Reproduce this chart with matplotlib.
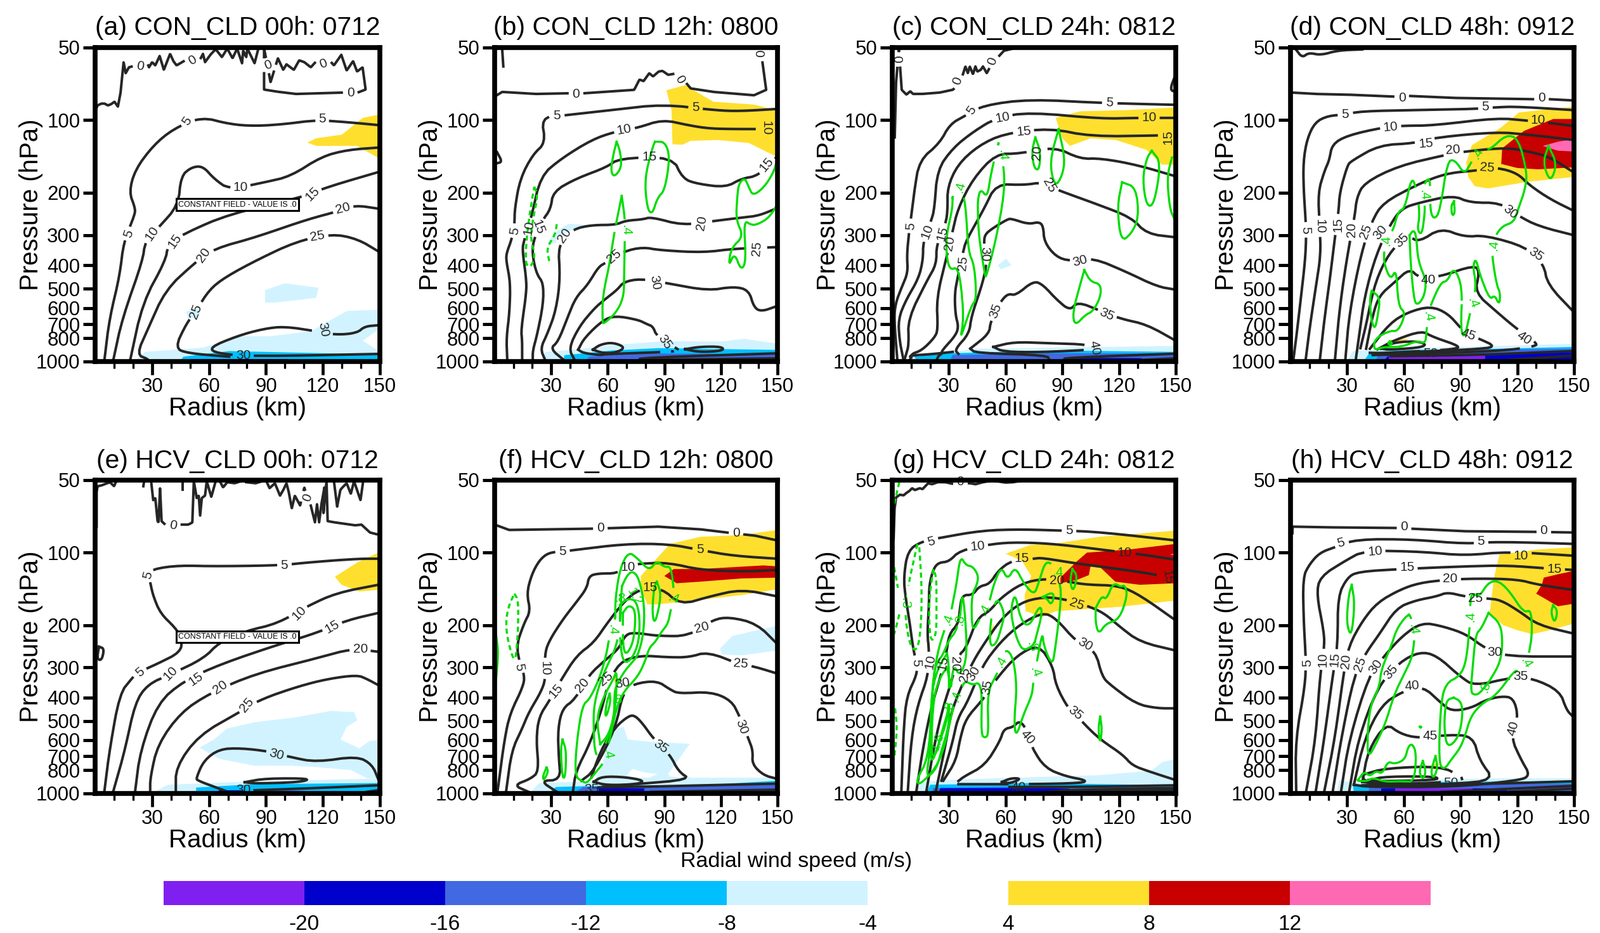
import numpy as np
import matplotlib
matplotlib.use('Agg')
import matplotlib.pyplot as plt

plt.rcParams['font.family'] = ['Liberation Sans', 'DejaVu Sans']

# values: radius (km), pressure (hPa)
titles = ['(a) CON_CLD 00h: 0712', '(b) CON_CLD 12h: 0800', '(c) CON_CLD 24h: 0812', '(d) CON_CLD 48h: 0912',
          '(e) HCV_CLD 00h: 0712', '(f) HCV_CLD 12h: 0800', '(g) HCV_CLD 24h: 0812', '(h) HCV_CLD 48h: 0912']
y_ticks = [50, 100, 200, 300, 400, 500, 600, 700, 800, 1000]
x_major = [30, 60, 90, 120, 150]
x_minor = [10, 20, 40, 50, 70, 80, 100, 110, 130, 140]
cbar_labels = ['-20', '-16', '-12', '-8', '-4', '4', '8', '12']
shade_colors = {-4: '#D1F3FF', -8: '#00BFFF', -12: '#4169E1', -16: '#0000CD', -20: '#8020F0',
                4: '#FFDF2E', 8: '#C80000', 12: '#FF69B4', 0: 'white'}
cbar_colors = ['#8020F0', '#0000CD', '#4169E1', '#00BFFF', '#D1F3FF', 'white', '#FFDF2E', '#C80000', '#FF69B4']

# ---- panel a
a_shade = [
    (-4, [(89.5,506),(100,474),(117.7,495),(116.4,545),(95,570),(89.5,570)]),
    (-4, [(48,620),(56,600),(54.6,655),(49,665)]),
    (-4, [(21,990),(26.3,912),(57,875),(76,786),(92,786),(113.7,749),(132.5,618),(149.5,610),(149.5,735),(141,820),(149.5,905),(149.5,990)]),
    (-8, [(45,990),(46.5,955),(70.6,905),(149.5,935),(149.5,990)]),
    (-16, [(50.5,990),(50.5,975),(101.6,975),(101.6,990)]),
    (4, [(111.8,124),(116.4,119),(130,115),(141,98),(149.5,95),(149.5,144),(138,128),(116.4,128)]),
]
a_black = [
    ('0', [(0.5,90),(1.3,87),(3.3,85.5),(5,85.5),(6.7,87),(8.4,86),(10.2,84),(12,88),(13.4,77),(15,57.6),(16.1,64),(17.8,60.5),(19.5,60),(21.2,62),(27.3,57.6),(28.4,60.5),(30,57.6),(31.7,59.4),(34,54.3),(36.2,62),(38.4,56),(39.5,53.2),(41.2,57),(42.9,59.4),(46.8,57),(48.4,60),(54.6,57.6),(56.8,53.2),(57.9,57.6),(60.7,53.7),(63.5,50.9),(66.8,54.9),(69.6,50.6),(72.4,55.5),(74.8,50.6),(77.4,58.2),(78,51.6),(79.6,54.9),(80.2,50.6),(84,58.2),(86,50.6)]),
    ('0', [(89,50.6),(89,74.8),(95.8,76.3),(105.8,78),(130,77),(138.6,76.8),(142.5,74.8),(140.9,60.5),(138,63),(135.9,57),(132.5,62.4),(129.7,53.7),(125.8,59.4),(122.5,55.5),(119.7,57.6),(117.5,56),(113.6,60.5),(110.2,57.6),(107.5,56.6),(104.7,62),(100.8,58.8),(99.1,62),(96.3,55.5),(92.4,69.8),(90.8,59.4),(89,50.6)]),
    ('5', [(4.8,1000),(7.5,665),(12.9,445),(15,319),(21,246),(21,230),(17.9,199),(21,161),(30.4,128),(41,109),(55.9,97),(70.6,104),(84,106),(100,104),(116.4,100),(132.5,102),(149.5,105)]),
    ('10', [(9.4,1000),(14.2,666),(25,384),(26.3,319),(33,281),(43.8,226),(45.2,171),(50.6,157),(56.7,155),(62.6,175),(70.6,194),(89.5,181),(103,171),(119,142),(132.5,133),(149.5,130)]),
    ('15', [(18.3,1000),(25,570),(37,384),(38.4,329),(46.5,296),(70.6,245),(108,210),(121.7,190),(149.5,164)]),
    ('20', [(28,1000),(28,977),(21.8,937),(27.7,736),(37,506),(52,393),(62.6,341),(84,307),(111,259),(127,240),(136.6,225),(149.5,233)]),
    ('25', [(70.6,955),(49,925),(42,880),(47.8,702),(53.2,616),(60,506),(68,450),(84,384),(105.6,319),(124.5,296),(138,310),(149.5,351)]),
    ('30', [(149.5,707),(142,715),(138,762),(127,776),(116.4,749),(100,716),(89.5,730),(76,778),(60,875),(64,926),(84,953),(149.5,930)]),
]
a_labels = [('0',23.6,60,-10),('0',51.2,56.6,30),('0',91,59.4,20),('0',120.3,58.6,20),('0',134.5,77,0),
            ('5',48.4,101,55),('5',119.6,99,0),('5',17.7,296,70),('10',76.6,190,0),('10',29.8,296,55),
            ('15',114.5,203,45),('15',42,318,55),('20',130.4,233,15),('20',57.3,362,55),
            ('25',117.2,303,10),('25',53.2,620,70),('30',120,735,-80),('30',78,945,0)]

# ---- panel b
b_shade = [
    (-4, [(28,326),(31.4,293),(39.2,269),(49.3,272),(43.7,279),(33,304),(32.5,323)]),
    (-4, [(24.3,990),(27,912),(45.8,888),(62,855),(89,825),(121.3,825),(132,805),(149.6,842),(149.6,990)]),
    (-8, [(36.4,990),(37,941),(49,922),(62,900),(87,880),(149.6,895),(149.6,990)]),
    (-12, [(48.5,990),(49.9,955),(75.5,925),(149.6,932),(149.6,990)]),
    (4, [(91.1,75.3),(101,71.7),(116,84),(137.5,86.3),(149.6,91),(149.6,142),(134.8,124.5),(118.6,121),(103.8,122),(99.7,126.5),(94.3,126),(93.8,91)]),
]
b_black = [
    ('0', [(0,80),(4,76.5),(21.6,78),(39,77.5),(47.2,77.5),(74,75),(76.8,68),(79,69),(82,64),(84,66),(87,63),(89,62.6),(92,65),(96,64.2),(100,68),(104,74),(116,76.5),(137.5,79),(144,75),(142,57.4),(142,56)]),
    ('', [(4,51),(4.6,60)]),
    ('', [(1.3,136),(4,149),(1.3,151)]),
    ('5', [(6.7,990),(6.2,798),(7.8,640),(8.4,473),(6.2,386),(6.2,357),(9,313),(10.6,269),(10.6,234),(13.5,175),(20.2,139),(27,124.5),(24.8,98),(35,96),(62,91),(89,86),(116,91),(129.4,92),(149.6,90)]),
    ('10', [(14.6,990),(14.6,817),(14,738),(16.8,523),(16.8,454),(14.6,344),(15.7,313),(19.6,251),(24.3,171),(35,145),(51.2,121),(63.3,112),(75.5,108),(89,99.6),(102.4,105),(112,108),(121.3,109),(149.6,109)]),
    ('15', [(20.2,990),(20.2,901),(22.4,783),(25.8,578),(25.8,473),(22.4,436),(20.2,371),(20.2,320),(25.2,261),(29.7,234),(31,198),(43,175),(59.3,157),(66,144),(94.3,142),(99.7,175),(107.8,184),(122.6,190),(130.7,175),(140,170),(149.6,142)]),
    ('20', [(26.9,990),(24.2,884),(28,767),(32.5,615),(34.8,454),(33.6,326),(41.5,283),(51.6,272),(64,272),(69.5,261),(78.5,258),(83,252),(99.7,273),(116,262),(132,253),(140,249),(149.6,232)]),
    ('25', [(37,990),(29.4,884),(33.6,830),(38.7,656),(43,543),(49.3,482),(55,406),(58.9,390),(68.4,350),(78.5,336),(87.4,346),(110.5,354),(126.7,341),(149.6,336)]),
    ('30', [(42.6,990),(39.2,884),(44.8,717),(52.7,604),(58.3,554),(65,505),(68.4,468),(77.4,454),(91.6,474),(113,509),(126.7,489),(134.8,506),(137.5,597),(141.5,621),(149.6,590)]),
    ('35', [(44.3,893),(47.6,798),(57.2,676),(63.9,646),(76.2,672),(80.7,700),(84,716),(85.8,783),(97,888)]),
    ('35', [(44.3,893),(47,922),(56,941),(58.3,932),(87.4,915),(94.4,908)]),
    ('40', [(52.1,893),(56,850),(62.8,833),(69.5,875),(63.9,922),(57.2,922),(52.1,893)]),
    ('40', [(101,889),(109,868),(120.7,868),(121.3,902),(109,915),(101,889)]),
    ('', [(76.8,990),(76.8,965),(149.6,925)]),
    ('', [(78,985),(149.6,970)]),
]
b_labels = [('0',43,78,0),('0',98,68,-60),('0',141.5,53,90),('5',33,96,0),('5',106.5,89,0),('5',10.6,288,80),
            ('10',68.7,110,10),('10',144,108,-90),('10',18,280,80),('15',82,142,0),('15',144,153,50),('15',23,277,-70),
            ('20',37,300,55),('20',110,267,80),('25',63.3,367,40),('25',139,341,85),('30',85,472,-80),('35',90.3,832,-55)]
b_green = [
    [(67.4,206),(69.2,259),(69,316),(68.7,450),(68.4,542),(64.5,628),(57.7,700),(57.2,683),(57.2,539),(61,393),(63.3,296),(67.4,206)],
    [(64.7,123),(66.6,135),(67.4,157),(63.3,173),(61.5,161),(63.3,135),(64.7,123)],
    [(85,123),(90.3,123),(93,142),(90.3,195),(86.3,210),(83.6,246),(80.9,233),(79.5,175),(83.6,131),(85,123)],
    [(149.6,149),(147.7,166),(142.9,190),(137,206),(134.8,190),(132.6,173),(129.4,184),(128.6,210),(128,259),(132,303),(125.3,340),(124,405),(127.2,354),(130.7,421),(133.4,384),(132,259),(136.3,273),(140.2,269),(145.6,253),(149.6,226)],
]
b_dashed = [
    [(21,189),(23,204),(20.2,259),(19,311),(21.6,365),(19,410),(16.2,393),(17,303),(19,233),(21,189)],
    [(32.9,270),(32.3,296),(27.5,340),(29,385)],
]
b_green_labels = [('.4',69.5,286,-90)]

# ---- panel c
c_shade = [
    (-4, [(55.8,400),(60.3,375),(63,400),(57.5,414)]),
    (-4, [(9,965),(32,912),(44,885),(86,875),(150,862),(150,990),(9,990)]),
    (-8, [(13,990),(11.6,955),(29.2,925),(86,900),(150,912),(150,990)]),
    (-12, [(30.5,990),(32,940),(83.2,925),(150,925),(150,990)]),
    (-16, [(90,990),(94,965),(132,968),(132,990)]),
    (4, [(86.5,98),(99.5,92),(123.8,91),(150,88.7),(150,153),(142.7,153),(134.6,133),(118.4,121),(104.9,119),(94,128),(90,119)]),
]
c_black = [
    ('0', [(1.3,118),(2,70),(3.5,51),(5,75),(7.5,78.5),(9.5,76),(11,78),(15.7,78),(25,77),(32,75),(36,70),(38.7,60),(40,64),(41,60),(42.7,64.6),(44,60),(45,63),(46.8,62),(48,60),(50,64),(51.4,61),(55,56),(59,51.7),(63,50.8)]),
    ('', [(150,76.5),(146.8,75),(150,64.6)]),
    ('5', [(2.7,990),(1,676),(1.6,578),(4.9,494),(8.3,428),(7.7,364),(8.8,295),(9.96,253),(11.6,198),(14.3,147),(25,125),(30.5,104),(38.6,96),(48,87),(72.2,82),(110,85),(149.9,86.5)]),
    ('10', [(6,990),(3.8,817),(3.2,666),(7.2,557),(13.9,454),(16.3,379),(16.3,320),(20.6,261),(22.3,234),(23.8,161),(31.9,131),(42.7,112),(54.9,98),(72.4,92.8),(110,98.8),(129,98),(149.9,98)]),
    ('15', [(6.3,990),(7.2,941),(8.8,850),(8.3,666),(18.3,463),(23.4,395),(23.3,330),(28.4,267),(29.3,234),(29.2,190),(34.6,153),(45.4,128),(58.9,114),(83.2,108),(104.9,117),(140,116),(150,115)]),
    ('20', [(9.4,990),(10,930),(15.5,901),(22.3,798),(24.2,738),(23.4,547),(28.4,379),(31.8,292),(34.6,234),(42.7,175),(54.9,138),(67,138),(85.9,129),(99.5,145),(110,144),(129,153),(149.9,171)]),
    ('25', [(23.4,990),(24.5,945),(26.2,930),(26.2,901),(33.4,783),(35.1,717),(33.4,640),(33,523),(34.6,448),(37.4,354),(39,316),(48.5,234),(54.9,184),(69.7,186),(79.2,181),(85.9,193),(107.6,222),(126.5,253),(134.6,296),(150,306)]),
    ('30', [(35,930),(33,893),(40.7,767),(41.8,652),(46.3,514),(48.5,448),(49.7,400),(49.5,375),(48.5,323),(49,298),(53,281),(60.8,258),(63,256),(72,270),(77.6,264),(79.9,275),(80.4,320),(86.6,368),(94,384),(106.2,372),(123.8,425),(140,489),(150,504)]),
    ('35', [(41.3,884),(51.3,767),(51.9,686),(57.5,561),(61.4,523),(65.3,533),(74.8,463),(79.9,482),(86.6,551),(94,616),(98,565),(110,616),(121,666),(134.6,702),(150,820)]),
    ('35', [(41.3,884),(44,922),(82,941),(83.2,990)]),
    ('40', [(53.5,870),(64.3,830),(80.5,838),(102.2,848),(111.6,888),(80.5,915),(58.9,912),(53.5,870)]),
    ('', [(10,965),(9,945),(21,932),(32,912)]),
    ('', [(91,985),(91,965),(150,928)]),
    ('', [(132,985),(150,970)]),
]
c_labels = [('0',4,56,90),('0',34.6,69,70),('0',53,57,70),('5',9.7,275,85),('5',42,91,55),('5',115,85,-5),
            ('10',58.4,98,10),('10',136,98,0),('10',18.4,290,70),('15',69.7,112,5),('15',146,118,90),('15',26.5,296,75),
            ('20',76.8,137,85),('20',30.5,323,80),('25',83,186,-60),('25',37.3,392,85),('30',49,359,-90),('30',99.5,385,15),
            ('35',54.7,618,70),('35',113.5,640,-25),('40',107,880,-80)]
c_green = [
    [(31.9,210),(33.2,186),(37.3,198),(39,234),(40.2,350),(43.5,400),(44.6,554),(41.8,586),(35.7,825),(37.9,666),(36.2,463),(34,406),(31.2,418),(29,386),(28.4,305),(31.8,234),(31.9,210)],
    [(56.2,125),(54.9,138),(58.9,149),(59.5,198),(55,310),(49.7,448),(49,438),(45.8,304),(45.2,234),(45.4,210),(46.8,193),(50.3,210),(52.2,166),(56.2,125)],
    [(75.7,118),(78.4,135),(77.8,161),(75.1,159),(73.8,135),(75.7,118)],
    [(88,109),(91.4,144),(90,170),(86,190),(83.2,149),(88,109)],
    [(121.6,181),(129,190),(130.5,253),(126.5,296),(121,319),(119,229),(121.6,181)],
    [(137.3,134),(142.2,150),(138.6,224),(134.6,228),(132.4,176),(134.6,144),(137.3,134)],
    [(148,143),(145.4,171),(146.8,233),(149.5,259)],
    [(101.6,418),(104.9,467),(110.3,478),(110.3,539),(106.2,620),(102.2,640),(96.7,712),(95.4,630),(98.9,496),(101.6,418)],
]
c_green_labels = [('.4',36,190,75),('.4',58.4,140,-90)]

# ---- panel d
d_shade = [
    (-4, [(30,990),(33,905),(64,880),(109,862),(150,845),(150,990)]),
    (-8, [(39,990),(42,915),(64,895),(109,885),(150,870),(150,990)]),
    (-12, [(45,990),(47,925),(86,895),(150,885),(150,990)]),
    (-16, [(49.5,990),(51.5,950),(103,940),(150,915),(150,975),(115,985),(109,990)]),
    (-20, [(52,990),(52,945),(103,940),(103,990)]),
    (4, [(96,127),(111,108),(121,93),(150,88),(150,172),(126,180),(104.5,192),(97.5,188),(94,172),(93,150)]),
    (4, [(52,815),(63,805),(59,825),(52,825)]),
    (8, [(111.5,152),(112,131),(123.5,111),(139,99),(150,99),(150,157),(131,160),(120,158)]),
    (12, [(133.5,128),(141.5,123),(150,120),(150,135),(141.5,134)]),
]
d_black = [
    ('', [(2.8,51),(6.2,55.2),(9.6,52.6),(16,53.9),(25,51.5),(38,51)]),
    ('0', [(1,77),(13.5,78),(30,78.5),(55,80),(63,79.5),(86.5,81),(129,82),(137,82),(150,83)]),
    ('5', [(1.5,985),(3,800),(5.5,545),(8,365),(8.3,280),(7,200),(6.7,150),(8.7,120),(13,102),(20,96),(29,95),(37,92),(64,91),(98,90),(109,88.5),(120,88),(150,91)]),
    ('10', [(8,985),(10,738),(13,513),(16,365),(15.5,280),(14.5,200),(18,162),(20.5,147),(22,126),(30,116),(47,108),(59,105.5),(75,105.5),(109,98),(125,100.5),(138,103),(150,106)]),
    ('15', [(15.5,985),(18,660),(21,445),(23.5,305),(25.5,237),(26,200),(30,155),(32,148),(47,127),(65,125),(77,118),(109,112),(126,115),(150,121)]),
    ('20', [(23.5,985),(26,597),(30,365),(34,250),(35,210),(39,182),(57,155),(81,140),(92,135),(114,130),(126,135),(137,142),(150,165)]),
    ('25', [(29,985),(31,640),(37,365),(43,262),(49,220),(66,187),(77,172),(86,165),(98,162),(109,157),(120,166),(126,185),(137,212),(150,238)]),
    ('30', [(34.5,985),(36,810),(39,545),(45,365),(53,268),(59,232),(68,220),(86,205),(95,220),(111,220),(120,248),(131,275),(150,300)]),
    ('35', [(37,880),(40,705),(44,495),(49,395),(55,335),(62.6,303),(68,320),(79.5,280),(92,305),(103,300),(124.5,335),(134,395),(136,480),(150,625)]),
    ('40', [(40,885),(43.5,640),(47,533),(55,470),(63,412),(68,450),(78.5,447),(97.5,398),(100,428),(97.5,518),(109,622),(119,725),(130,835),(130,865),(111,905),(64,930),(43.5,940)]),
    ('45', [(42,885),(52.5,695),(62,625),(74,590),(83,630),(90,725),(93,770),(100,805),(109,870),(97.5,890),(75,905),(52.5,925),(42,920)]),
    ('50', [(46,890),(55,815),(69.5,745),(75,790),(90,865),(86.5,890),(69.5,905),(46,925)]),
    ('', [(48,885),(55,830),(69.5,825),(72,870),(52.5,895),(48,885)]),
    ('', [(53,950),(97.5,940),(150,905)]),
    ('', [(115,985),(150,945)]),
]
d_labels = [('0',59,81,0),('0',133,81,0),('5',29,95,0),('5',103,88,0),('10',53,107,5),('10',131,100,0),('15',71.5,125,5),
            ('20',86,133,5),('25',104,158,-5),('30',116.5,240,-40),('35',130,360,-35),('35',59,315,45),('40',73,460,0),
            ('40',123.5,800,-35),('45',94,775,-20),('50',74,930,0),('5',8,285,-90),('10',15.5,275,-90),('15',25,272,90),
            ('20',32.5,285,90),('25',40,290,70),('30',47.5,292,50)]
d_green = [
    [(51.5,292),(54,292),(57,238),(60.5,233),(64,172),(66.5,190),(68.5,245),(67,285),(69.5,300),(71,245),(71,222),(70.5,204),(70.5,185),(73.5,172),(74,198),(74,240),(76,258),(79,240),(83,148),(87,146),(92,168),(95.5,150),(99,137),(102,131),(105.5,133),(114,115),(120.5,119),(125,162),(124.5,190),(120,240),(118,265),(112,275),(108,305),(107.5,330),(106.5,360),(109,480),(111,520),(110.5,585),(108,530),(105.5,555),(100.5,445),(98,372),(96.5,405),(98,465),(97.5,530),(96.5,570),(95,630),(92,805),(90,735),(91,492),(86.5,405),(83,465),(79.5,470),(73.5,600),(73,650),(72,730),(71.5,845),(67,820),(59,870),(49,870),(44,900),(44.5,805),(52.5,745),(57,750),(61,630),(57,590),(56,412),(53,460),(49.5,395),(49.5,350),(50.5,315),(51.5,292)],
    [(63,300),(65,285),(66.5,300),(67.5,385),(72,465),(70.5,545),(66.5,590),(65,525),(63.5,385),(63,300)],
    [(43,510),(47.5,545),(46,660),(44.5,740),(42.5,660),(42,545),(43,510)],
    [(136.5,128),(141,152),(137.5,182),(133.5,150),(136.5,128)],
    [(86.5,217),(87,243),(85.5,250),(85,226),(86.5,217)],
    [(52.5,825),(54,840),(52.5,855),(51.5,840),(52.5,825)],
]
d_dashed = []
d_green_labels = [('.4',70.5,204,-85),('.4',99,137,60),('.4',50.5,315,90),('.4',107.5,330,85),('.4',96.5,570,-70),('.4',73,650,-80)]

# ---- panel e
e_shade = [
    (-4, [(55,645),(62.6,597),(69.4,538),(84,506),(105.6,483),(124.4,454),(136.5,460),(138,498),(132.5,529),(129.3,597),(139.2,650),(144.6,605),(149.2,602),(149.2,866),(143.3,866),(135,800),(116.4,777),(103,767),(84,767),(65.3,718)]),
    (-4, [(30.4,990),(38.4,920),(70.7,898),(149.2,866),(149.2,990)]),
    (-8, [(53.2,990),(53.2,945),(84,915),(149.2,905),(149.2,990)]),
    (-12, [(84,985),(89.5,965),(111,975),(108,985)]),
    (-16, [(65,985),(65,970),(78.8,970),(76,985)]),
    (4, [(126.3,126),(138,110),(149.2,100),(149.2,142.6),(139.2,145),(129.8,136)]),
]
e_black = [
    ('0', [(0.8,78),(0.8,56),(1.3,53),(3.3,52.6),(7.8,51),(10,53),(11.1,50.5)]),
    ('0', [(25.4,53),(25.8,50.5)]),
    ('0', [(29.5,50.5),(30.6,60.6),(31.7,59.3),(32.9,74),(33.4,74.8),(34.2,54),(35,74),(37.3,77),(44.5,76.5),(49,76.5),(51.2,75),(52,50.5),(53.5,59.3),(54.6,58),(55.3,70.4),(56.2,59.3),(57.9,58),(58.8,50.5),(61.2,58.7),(63.5,50.5)]),
    ('0', [(46.2,50.5),(46.2,54.9)]),
    ('0', [(65.7,50.5),(67.4,53.6),(69.6,51),(73.5,51.5),(76.8,50.5)]),
    ('0', [(79.6,51),(84.6,51.5),(88,50.5)]),
    ('0', [(90.2,50.5),(91.9,54),(94.7,51.5),(97.4,58),(99.1,55),(100.8,51.5),(101.9,55.5),(103.6,65.5),(105.2,58),(108,63.7),(110.2,53.6),(111.4,58),(113.6,63.7),(115.8,74.8),(116.9,63),(118,74.8),(119.2,63),(120.8,53.6),(120.3,68.6),(121.9,50.5),(122.5,74),(125.8,74.8),(137,77),(140.3,76.5),(144.8,82.5),(148.7,84),(149.5,84)]),
    ('0', [(125.8,50.5),(127.5,64.4),(129.2,54.9),(130.3,53.6),(132.5,51.5),(134.7,57),(136.4,50.5),(139.8,60.6),(141.2,50.5)]),
    ('', [(2,246),(4.8,250),(3.5,280),(1,277),(2,246)]),
    ('5', [(4.8,990),(7.5,667),(12.9,385),(19.6,331),(22.3,315),(33,289),(45,259),(45.8,229),(42.5,206),(34.4,179),(30.4,150),(29,132),(27.7,124),(30.4,117),(43.8,113),(62.6,114),(97.6,113),(111,110),(138,106),(149.2,106)]),
    ('10', [(9.4,990),(15.6,667),(21,421),(27.7,352),(39.8,320),(57.3,275),(65.3,236),(78.8,212),(96.2,197),(111,168),(127,147),(149.2,136)]),
    ('15', [(21,990),(23.7,667),(33,421),(46.5,342),(65.3,292),(94.9,243),(116.4,216),(132.5,191),(149.2,178)]),
    ('20', [(29,990),(29,860),(33,625),(45,462),(60,385),(84,319),(116.4,275),(135.2,250),(149.2,258)]),
    ('25', [(42.5,990),(42.5,777),(54.6,573),(76,460),(86.8,408),(105.6,362),(121.8,335),(138,322),(143.3,335),(149.2,355)]),
    ('30', [(68.5,975),(54,885),(53.2,864),(57.3,729),(65.3,655),(76,648),(90.9,667),(103,707),(116.4,741),(138,700),(146,759),(149.2,875)]),
    ('', [(78.8,898),(89.5,866),(113.7,866),(108.3,898),(84,910),(78.8,898)]),
    ('', [(84,970),(116.4,950),(149,925)]),
    ('', [(143,985),(149,970)]),
]
e_labels = [('0',41,77,-10),('0',112,59,70),('5',23.7,315,40),('5',27.7,124,75),('5',99.7,113,0),('10',39.8,318,45),('10',107.5,179,45),
            ('15',53,335,35),('15',125,203,30),('20',65.8,362,35),('20',139.7,252,0),('25',80,430,50),('30',95.7,690,-15),('30',78,970,0)]

# ---- panel f
f_shade = [
    (-4, [(61.5,540),(68.5,530),(70.5,597),(82,610),(103.5,622),(93,811),(104,860),(150,860),(150,990),(19,990),(23.5,905),(41.5,896),(52.5,896),(57,770)]),
    (-4, [(119.5,250),(126,222),(150,201),(150,255),(131,267),(120.5,265)]),
    (0, [(80,820),(86.5,830),(82,860),(69.5,855),(73,790)]),
    (0, [(92,825),(95,790),(100,860),(93,850)]),
    (-8, [(29,990),(32.5,940),(64,925),(109,925),(150,885),(150,990)]),
    (-12, [(42.5,990),(47,940),(109,935),(150,910),(150,990)]),
    (-16, [(55,990),(55,950),(79.5,950),(79.5,990)]),
    (4, [(77.5,125),(93,92),(109,86),(131,84.5),(150,80.5),(150,142),(131,150),(109,157),(86.5,164),(81,164),(77.5,142)]),
    (4, [(63,322),(65,322),(64,350),(63,335)]),
    (8, [(90,125),(95,117),(109,117),(142.5,113),(150,114),(150,127),(131,128),(109,132),(96.5,134)]),
]
f_black = [
    ('0', [(1,77),(7.7,80.5),(30,80),(52.7,79.5),(64,79),(86.5,78),(109,80),(126,83),(138,85),(150,89)]),
    ('5', [(1.5,985),(5,610),(8,468),(15,362),(16,322),(11,250),(15.5,197),(19,175),(17,148),(19.5,124),(23.5,108),(28.5,100),(36,99),(68,92),(92,92),(109,97.5),(126,103),(150,106)]),
    ('10', [(6,990),(9,664),(14.5,540),(18,462),(24.5,380),(27,335),(26.5,267),(28.5,235),(36,190),(43.5,160),(49,140),(50,125),(55,122),(65,122),(68.5,114),(77.5,111),(92,110),(109,118),(131.5,120),(150,118)]),
    ('15', [(18,985),(10,925),(19,870),(23.5,810),(22,597),(23.5,480),(29,412),(35,340),(43.5,267),(52.5,237),(59.5,197),(68.5,160),(76.5,142),(88.5,140),(98.5,165),(114,152),(131,142),(150,152)]),
    ('20', [(33,985),(24,885),(35,880),(34,710),(33.5,540),(36,443),(42.5,408),(50,322),(58.5,280),(66,250),(69.5,218),(75,215),(86.5,222),(103,222),(115.5,190),(124.5,185),(139,197),(150,240)]),
    ('25', [(41.5,985),(43,811),(50.5,622),(57,443),(59.5,362),(66,285),(77,267),(92,272),(103,272),(113,258),(130.5,292),(137,296),(150,318)]),
    ('30', [(46,885),(52.5,810),(64,540),(68,380),(74,350),(86,340),(93,370),(97.5,385),(114.5,378),(125.5,410),(130,480),(134.5,590),(137,664),(136.5,755),(142.5,840),(150,870)]),
    ('35', [(49,975),(56,664),(64,530),(70.5,480),(74,472),(78.5,512),(84,590),(93,690),(97.5,811),(104,875),(75,915),(52.5,945)]),
    ('', [(52.5,895),(57,850),(69.5,855),(79.5,885),(76,915),(59.5,925),(52.5,895)]),
    ('', [(55,945),(86.5,935),(150,910)]),
    ('', [(83,985),(150,965)]),
]
f_labels = [('0',56,79,0),('0',128,83,0),('5',36,99,0),('5',109,97,0),('5',13,298,-80),('10',26.5,303,-90),('10',70.5,115,0),
            ('15',32.5,375,50),('15',82.5,140,0),('20',46.5,355,50),('20',110,205,15),('25',130.5,290,-5),('25',59,335,40),
            ('30',68,350,10),('30',131,530,-70),('35',88,640,-35),('35',51.5,960,0)]
f_green = [
    [(64,185),(64,155),(66.5,116),(71,99),(76,106),(82,119),(86,108),(90,115),(93.5,114),(95,142),(95,155),(93.5,171),(92,197),(88.5,213),(85,236),(82,248),(80,280),(76,327),(68.5,376),(64.5,443),(61.5,577),(60,640),(60,685),(57.5,750),(54,811),(49,905),(47,896),(42.5,850),(43.5,610),(46.5,430),(50.5,405),(56,327),(59.5,260),(60.5,230),(62.5,209),(64,185)],
    [(67.5,138),(70,125),(73,119),(76.5,127),(79.5,165),(79,218),(76,267),(73,285),(68.5,313),(64,362),(63.5,400),(63.5,465),(60.5,577),(55.5,725),(53,664),(52.5,540),(52.5,443),(55,362),(59.5,296),(65,242),(67,178),(67,155),(67.5,138)],
    [(68,178),(71,165),(74.5,172),(74.5,205),(73,242),(69.5,267),(68,242),(68,178)],
    [(66.5,165),(70.5,155),(75,158),(77,185),(76.5,235),(73,275),(68.5,290),(66.5,240),(66.5,165)],
    [(56,625),(54,489),(57.5,400),(63,335),(65,305),(64,460),(60.5,570),(56,625)],
    [(61,385),(61.5,415),(59.5,475),(58.5,475),(59.5,415),(61,385)],
    [(86,132),(88.5,150),(85,200),(83.5,178),(84.5,140),(86,132)],
    [(36,597),(38,664),(37.5,850),(36,870),(35,664),(36,597)],
    [(27.5,780),(28.5,810),(26,885),(25.5,850),(27.5,780)],
    [(0.7,218),(2,260),(0.7,338)],
]
f_dashed = [[(10.5,148),(12.5,158),(12.5,197),(12,235),(11,280),(9.3,270),(6.5,222),(6,190),(7.6,165),(10.5,148)]]
f_green_labels = [('.4',95,155,-20),('.4',62.5,209,-90),('.4',60,685,-80),('.8',66.5,155,0),('.8',65,410,0),('1.2',74,152,-60)]

# ---- panel g
g_shade = [
    (-4, [(12.7,990),(14.5,905),(25.5,880),(75,855),(109,840),(137,805),(143,740),(150,720),(150,990)]),
    (-8, [(18.3,990),(20,920),(75,905),(150,925),(150,990)]),
    (-12, [(21,990),(21.7,950),(75,935),(150,940),(150,990)]),
    (-16, [(24.5,985),(25.5,950),(78.5,950),(94,955),(93,985)]),
    (4, [(60,101),(73,93),(86.5,91.7),(109,86),(150,81),(150,158),(120,168),(86.5,175),(79.5,185),(70.5,175),(70,150),(73.5,125),(68.5,108)]),
    (4, [(51.5,215),(54,197),(52.5,225)]),
    (8, [(89,127),(97.5,109),(103,100),(125.5,97),(150,92),(150,134),(131,136),(118,132),(109,113),(105,113),(104,124),(97.5,130),(89,134)]),
    (12, [(147,102),(150,100),(150,103)]),
]
g_black = [
    ('0', [(0.7,88),(1.2,66),(2,59),(4,57.5),(6,57.8),(7.5,56.5),(9,55.5),(10.5,54),(12,55),(14.5,54),(16,54.5),(19,51.5),(21,52),(24,51),(28,51),(32,51.8),(41,51.5),(44,52),(48,51),(53,50.2),(60,51.2),(64,51),(69,50.2)]),
    ('5', [(4.8,985),(6,540),(7.6,395),(13,322),(13,290),(11,250),(9.3,197),(7,153),(6,127),(8.2,98),(15.5,90),(24.5,87),(47,81),(67,80),(90,81),(109,82),(150,89)]),
    ('10', [(8.2,985),(10,597),(13.3,432),(19,325),(19.5,255),(18.5,218),(19.5,161),(19.5,137),(21.7,117),(24.5,110),(30,109),(35.7,98),(52.7,92),(66,90.5),(86.5,92),(116.5,98.5),(129,101),(150,107)]),
    ('15', [(12.7,985),(16,664),(20.5,443),(25.5,327),(28.5,267),(30,218),(35,197),(35.7,172),(37,150),(42.5,150),(46,138),(51.5,135),(56,119),(63,108),(75,106),(79,105),(97.5,111),(120,117),(139,123),(150,129)]),
    ('20', [(18,985),(22,640),(26.7,443),(31,350),(35,267),(39,250),(45,187),(51.5,175),(57,155),(68.5,134),(80.5,128),(93,132),(103,136),(120,137),(131,150),(149.5,190)]),
    ('25', [(23,985),(28,640),(31,465),(36,368),(42.5,285),(49,236),(58,187),(68,161),(79.5,153),(89.5,155),(103,166),(112,178),(120,202),(131,235),(150,255)]),
    ('30', [(26,885),(32,610),(34.5,489),(40,415),(47.5,296),(57,236),(67,200),(79.5,177),(86.5,187),(97.5,235),(107.5,255),(111,327),(115.5,355),(129,425),(140,443),(150,443)]),
    ('35', [(27,885),(33.7,733),(36,586),(39,489),(47,415),(50,385),(56,327),(66,267),(77.5,240),(85,296),(86.5,355),(93,443),(97,465),(101,510),(110,597),(122,690),(127,765),(136,811),(150,880)]),
    ('40', [(35,888),(38,850),(49,765),(57,607),(59,540),(64,530),(67,500),(70.5,530),(74,650),(81,785),(92,850),(102.5,880),(101,905),(75,915),(35,915)]),
    ('', [(58,896),(63,863),(68.5,868),(62,910),(58,896)]),
    ('', [(62,940),(94,940),(150,925)]),
    ('', [(80,990),(95,965),(150,950)]),
    ('', [(96,985),(150,965)]),
]
g_labels = [('5',20.5,90,15),('5',93.5,81,0),('10',45,94,5),('10',123,100,0),('15',68.5,106,0),('15',145.5,126,-80),('5',12.7,287,-90),
            ('10',20,285,80),('20',87,131,0),('25',97.7,164,-20),('30',102,240,-30),('35',97,465,-40),('40',71.5,585,-50),('40',67,945,0),
            ('35',50.4,362,80),('30',43,318,60),('25',38.6,322,80),('20',33,290,-90),('15',26.7,287,80),('0',36,50.8,0)]
g_green = [
    [(31,178),(34,135),(36,103),(39,113),(42.5,114),(45.5,124),(45,135),(42,150),(42,193),(43,210),(46,190),(49,173),(51,165),(53.7,135),(57.7,114),(61,130),(65,114),(69.5,134),(75,150),(77.3,135),(80.7,110),(84,110),(87.5,121),(88,128),(89.7,150),(86.3,250),(84.6,296),(80,242),(79.5,213),(76.7,278),(75.6,313),(74.5,350),(74,390),(69.4,470),(65.5,585),(64.4,500),(66,362),(64,272),(60,250),(57.6,285),(55.4,320),(50.3,378),(51,565),(49.2,590),(47,570),(47.5,390),(46,345),(42.5,355),(38.5,340),(36.3,370),(34,395),(32.4,435),(30,525),(28,625),(23.4,780),(14.4,925),(12.7,880),(18.9,720),(21,443),(21.7,327),(24.5,250),(27.3,213),(29.5,190),(31,178)],
    [(36,180),(37,146),(38.5,178),(39.7,272),(35.7,327),(32.4,290),(31,370),(30,430),(30,525),(26,664),(23.4,790),(17.8,870),(20,664),(20.5,443),(22.3,296),(26.7,267),(30,230),(33.7,213),(36,180)],
    [(29,262),(30,296),(30,400),(29,500),(24.5,625),(21,750),(20,664),(20.5,400),(23.4,310),(29,262)],
    [(29,300),(31,362),(30,443),(26.7,540),(22.3,720),(20.5,664),(21.7,400),(25.5,327),(29,300)],
    [(55,160),(56.5,158),(59.5,180),(57.7,205),(55,240),(51.5,245),(52,193),(54,165),(55,160)],
    [(75.4,235),(79.5,178),(78,165),(72.3,205),(67.7,188),(65,146),(62.7,172),(64,202),(66.6,236),(69.4,255),(74,245),(75.4,235)],
    [(95.3,117),(98,125),(95.7,146),(94,132),(95.3,117)],
    [(79.5,153),(84.6,146),(85.7,153),(84,165),(81.8,155),(79.5,153)],
    [(107.6,170),(111,151),(113.2,157),(117,133),(121,139),(123,136),(124.5,151),(120,190),(113,197),(109.3,218),(107.6,197),(107.6,170)],
    [(110,480),(111,540),(110,625),(109,540),(110,480)],
]
g_dashed = [
    [(1,115),(3.7,150),(4.3,175),(1,218)],
    [(13.3,92),(8.8,132),(6.5,175),(8.8,235),(12,258),(14.4,235),(15.5,178),(15.5,132),(14.3,95)],
    [(21.7,117),(19.5,155),(19.5,197),(20.5,236),(23.4,218),(23.4,161),(23.4,127),(21.7,117)],
    [(3.7,51),(1,63)],
    [(1.5,443),(2.6,540),(1,720)],
]
g_green_labels = [('.4',29.5,190,70),('.8',35.7,190,80),('.4',49,173,60),('.4',87.5,121,0),('.8',74,245,-70),('.4',75.6,313,-70),
                  ('.4',57.6,285,60),('.4',34,395,70),('1.6',24,610,70),('.8',30,435,80),('-.3',6.9,158,-90)]

# ---- panel e/a boxes
box_text = 'CONSTANT FIELD - VALUE IS .0'
box_pos = 224

# ---- panel h
h_shade = [
    (-4, [(24.5,990),(25.8,880),(33.5,905),(64,880),(109,865),(150,865),(150,990)]),
    (-8, [(33.5,990),(33,925),(75,896),(150,888),(150,990)]),
    (-12, [(41.5,990),(41.5,940),(109,915),(150,910),(150,990)]),
    (-16, [(48,985),(48,955),(114.5,955),(114.5,985)]),
    (-20, [(55.5,985),(55.5,955),(96.4,955),(96.4,985)]),
    (4, [(110.5,102),(131,97),(150,95),(150,197),(137,210),(128,218),(120,210),(112.5,200),(105.4,178),(107.6,128)]),
    (4, [(74.5,755),(79,750),(76,800)]),
    (8, [(134,127),(141.5,123),(150,119),(150,163),(141.5,167),(130,148),(133,136)]),
]
h_black = [
    ('0', [(1,83),(1.1,78),(19,78.5),(56,79),(92,81.5),(130,82),(150,82.5)]),
    ('5', [(3,985),(2.6,597),(7.6,362),(8.2,283),(7,197),(6.5,127),(9.9,112),(15.5,100),(23.4,95),(34.6,88),(64,88),(92,92),(109,90),(150,92)]),
    ('10', [(8.2,985),(13.3,597),(15.5,330),(17.8,250),(17.8,215),(13.8,150),(15.5,126),(29,108),(39,98),(69.4,99),(92,103),(114.4,99),(150,103)]),
    ('15', [(13.3,985),(17.8,597),(22.3,325),(25,242),(25,152),(30,127),(35.7,120),(58,117),(92,114),(114.4,113),(133.5,116),(149.5,118)]),
    ('20', [(17.8,985),(23.4,597),(27.9,325),(30.7,245),(38,192),(46,161),(57.5,143),(67.5,134),(80.5,130),(97.5,128),(120,129),(131,136),(150,143)]),
    ('25', [(22.3,985),(26.7,597),(33.5,327),(39.7,262),(47,218),(56,170),(66,158),(77.3,152),(83,146),(92,152),(103.7,155),(111,157),(121,175),(131,200),(150,217)]),
    ('30', [(26.7,985),(31,597),(41.3,327),(49,272),(59,222),(69.4,195),(80.5,202),(93,218),(103,250),(114.4,270),(149.5,270)]),
    ('35', [(31,985),(35.7,597),(46,362),(57.6,285),(68.3,258),(77.3,267),(89.7,327),(97.5,358),(116.6,330),(128,332),(142.5,375),(146,450),(149.5,480)]),
    ('40', [(33.5,920),(39,597),(48,430),(59,378),(70,358),(79.5,420),(85,455),(95.3,443),(103,410),(111,395),(118,400),(120.6,485),(116.6,585),(122,725),(127,845),(120,885),(86.3,940),(41.3,940),(33.5,920)]),
    ('45', [(38,896),(41,664),(50.5,510),(58,565),(68,590),(84,570),(96.5,578),(100,730),(108,880),(86,915),(52.5,925),(38,896)]),
    ('50', [(38.5,835),(50.3,785),(79.5,770),(90.3,850),(91,885),(64,915),(38.5,896),(38.5,835)]),
    ('', [(41.3,880),(50.3,850),(77.3,850),(78,880),(47,890),(41.3,880)]),
    ('', [(38,925),(100,915),(150,890)]),
    ('', [(80,985),(150,930)]),
    ('', [(115,985),(150,955)]),
]
h_labels = [('0',60,78,0),('0',134,81,0),('5',26.7,91,15),('5',100.7,90,0),('10',44.7,99,5),('10',122,103,0),('15',61.6,115,0),('15',139.7,117,0),
            ('20',84.6,128,0),('25',98,155,0),('30',108.2,260,0),('35',121.7,327,0),('40',64.4,358,5),('45',73.7,578,0),('40',118,535,75),
            ('5',8.8,287,90),('10',17.2,278,90),('15',23.4,278,85),('20',29.5,283,85),('25',36.9,290,70),('30',45,298,55),('35',53.2,313,50),
            ('50',85,905,0)]
h_green = [
    [(62.7,181),(63.8,186),(65,208),(65.7,223),(64.4,272),(60.5,315),(55,385),(50.3,510),(45.8,610),(40.8,720),(40.8,540),(42.5,425),(47,362),(48,305),(53.5,242),(56,209),(60.5,186),(62.7,181)],
    [(95,168),(95.8,146),(99.8,153),(104.3,134),(109.3,130),(115.5,143),(123.4,178),(127.3,172),(127.9,218),(126,267),(124.5,287),(120.5,310),(118.3,310),(108.8,392),(100.9,425),(95.3,480),(92.5,572),(89.7,650),(85.2,720),(81.2,800),(78.4,745),(79.3,443),(81.8,350),(89.7,325),(93,283),(94.7,205),(95.3,185),(95,168)],
    [(104.8,178),(111,197),(112.3,235),(111,285),(106,335),(103,360),(99.8,385),(97.5,390),(95.3,380),(96.4,296),(98,218),(100.9,207),(104.8,178)],
    [(86.3,400),(90.3,415),(91.2,470),(89,585),(83,650),(81.3,540),(81.8,443),(83,408),(86.3,400)],
    [(35.7,880),(39,810),(41.9,850),(45.3,805),(48.6,830),(51.5,735),(55,755),(60.5,725),(62.2,640),(64.4,620),(66.6,680),(65.5,896),(59.3,888),(50.3,896),(43.6,860),(40.8,888),(35.7,888),(35.7,880)],
    [(70,733),(71.7,811),(70,880),(68,811),(70,733)],
    [(76.7,700),(77.9,785),(75.6,870),(74.2,811),(76.7,700)],
    [(32.4,136),(34,163),(32.2,225),(29.6,197),(30.7,151),(32.4,136)],
    [(139,165),(141.4,175),(139.7,197),(137.8,177),(139,165)],
    [(68.4,528),(69.4,528),(68.9,535),(68.4,528)],
]
h_dashed = []
h_green_labels = [('.4',65,208,-85),('.4',95.3,185,90),('.4',124.5,287,-60),('.8',103,362,75)]

# (left, right, top, bottom) of each panel in image pixels
W, H = 2523, 1471
lefts = [150, 780, 1407, 2035]
rights = [599, 1226, 1854, 2482]
rows = [(74.6, 570), (757, 1251)]


def trace(ax, pts, smooth):
    xy = ax.transData.transform(np.array(pts, float))
    if smooth:
        for k in range(2):
            a = 0.75 * xy[:-1] + 0.25 * xy[1:]
            b = 0.25 * xy[:-1] + 0.75 * xy[1:]
            mid = np.empty((2 * len(a), 2))
            mid[0::2] = a
            mid[1::2] = b
            xy = np.vstack([xy[0], mid, xy[-1]])
    s = np.r_[0, np.cumsum(np.hypot(*np.diff(xy, axis=0).T))]
    ss = np.arange(0, s[-1] + 1.5, 1.5)
    return np.c_[np.interp(ss, s, xy[:, 0]), np.interp(ss, s, xy[:, 1])]


def draw_line(ax, level, pts, labels, smooth=True, **style):
    # the line stops short of its own labels, as NCL does
    xy = trace(ax, pts, smooth)
    keep = np.ones(len(xy), bool)
    for txt, r, p, rot in labels:
        if txt == level:
            c = ax.transData.transform((r, p))
            keep &= np.hypot(*(xy - c).T) > 8 + 5 * len(txt)
    rp = np.full(xy.shape, np.nan)
    rp[keep] = ax.transData.inverted().transform(xy[keep])
    ax.plot(rp[:, 0], rp[:, 1], **style)


def draw_panel(ax, shade, black, labels, green=(), dashed=(), green_labels=()):
    for level, pts in shade:
        pts = np.array(pts)
        ax.fill(pts[:, 0], pts[:, 1], color=shade_colors[level], lw=0, zorder=1)
    for level, pts in black:
        draw_line(ax, level, pts, labels, smooth=level != '0', color='#262626', lw=2.9, zorder=3)
    for pts in green:
        draw_line(ax, '.4', pts, green_labels, color='#00DC00', lw=2.4, zorder=4)
    for pts in dashed:
        draw_line(ax, '-.3', pts, green_labels, color='#00DC00', lw=2.4, ls=(0, (2.4, 1.6)), zorder=4)
    for txt, r, p, rot in labels:
        ax.text(r, p, txt, rotation=rot, fontsize=15, color='#262626', ha='center', va='center', zorder=5)
    for txt, r, p, rot in green_labels:
        ax.text(r, p, txt, rotation=rot, fontsize=15, color='#00DC00', ha='center', va='center', zorder=5)


panels = [
    (a_shade, a_black, a_labels, [], [], []),
    (b_shade, b_black, b_labels, b_green, b_dashed, b_green_labels),
    (c_shade, c_black, c_labels, c_green, [], c_green_labels),
    (d_shade, d_black, d_labels, d_green, d_dashed, d_green_labels),
    (e_shade, e_black, e_labels, [], [], []),
    (f_shade, f_black, f_labels, f_green, f_dashed, f_green_labels),
    (g_shade, g_black, g_labels, g_green, g_dashed, g_green_labels),
    (h_shade, h_black, h_labels, h_green, h_dashed, h_green_labels),
]

fig = plt.figure(figsize=(W / 100, H / 100), dpi=100)
for i, panel in enumerate(panels):
    col = i % 4
    top, bot = rows[i // 4]
    ax = fig.add_axes([lefts[col] / W, 1 - bot / H, (rights[col] - lefts[col]) / W, (bot - top) / H])
    ax.set_xlim(0, 150)
    ax.set_yscale('log')
    ax.set_ylim(1000, 50)
    ax.set_yticks(y_ticks)
    ax.set_yticklabels([str(t) for t in y_ticks])
    ax.minorticks_off()
    ax.set_xticks(x_major)
    ax.set_xticks(x_minor, minor=True)
    ax.tick_params(axis='y', which='major', length=14, width=3.6, labelsize=22.5, pad=3)
    ax.tick_params(axis='x', which='major', length=15, width=3.4, labelsize=22.5, pad=3)
    ax.tick_params(axis='x', which='minor', length=8, width=2.4)
    for side in ax.spines:
        ax.spines[side].set_linewidth(5.5)
        ax.spines[side].set_zorder(10)
    ax.set_title(titles[i], fontsize=29.3, pad=14)
    ax.set_xlabel('Radius (km)', fontsize=29, labelpad=0)
    ax.set_ylabel('Pressure (hPa)', fontsize=29, labelpad=-8)
    draw_panel(ax, *panel)
    if i in (0, 4):
        ax.text(75, box_pos, box_text, fontsize=9, ha='center', va='center', zorder=6,
                bbox=dict(boxstyle='square,pad=0.25', fc='white', ec='black', lw=2.2))

# colour bar
cax = fig.add_axes([258 / W, 1 - 1427 / H, (2256 - 258) / W, 38 / H])
cax.bar(range(9), [1] * 9, width=1, align='edge', color=cbar_colors)
cax.set_xlim(0, 9)
cax.set_ylim(0, 1)
cax.set_yticks([])
cax.set_xticks(range(1, 9))
cax.set_xticklabels(cbar_labels)
cax.tick_params(axis='x', length=0, labelsize=24, pad=11)
for side in cax.spines:
    cax.spines[side].set_visible(False)
fig.text(1256 / W, 1 - 1358 / H, 'Radial wind speed (m/s)', fontsize=24.5, ha='center', va='center')

fig.savefig('out.png', dpi=100)
